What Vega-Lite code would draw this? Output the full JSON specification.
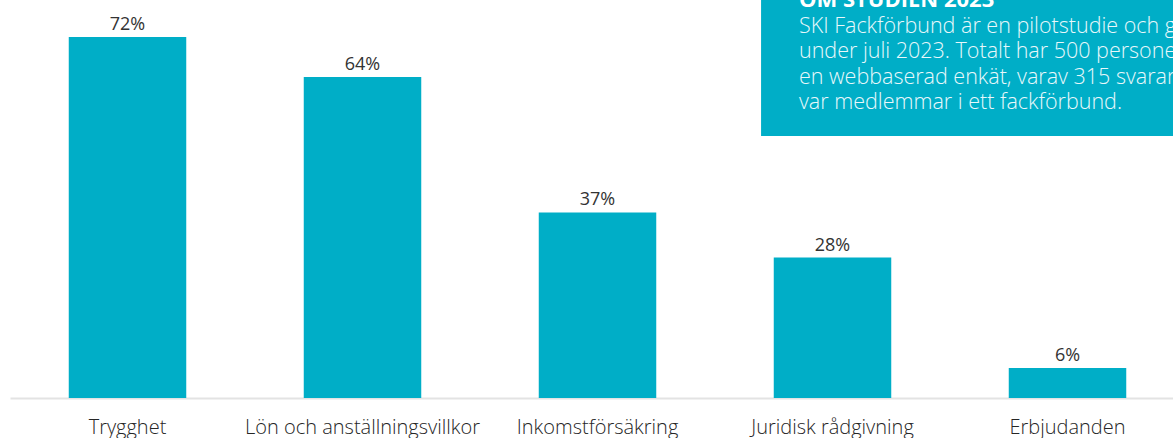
{
  "$schema": "https://vega.github.io/schema/vega-lite/v6.json",
  "autosize": {"type": "none"},
  "width": 1163,
  "height": 398,
  "padding": {"left": 10, "top": 0, "right": 0, "bottom": 40},
  "background": "white",
  "config": {"view": {"stroke": null}, "font": "Open Sans"},
  "datasets": {
    "bars": [
      {"kategori": "Trygghet", "andel": 0.72},
      {"kategori": "Lön och anställningsvillkor", "andel": 0.64},
      {"kategori": "Inkomstförsäkring", "andel": 0.37},
      {"kategori": "Juridisk rådgivning", "andel": 0.28},
      {"kategori": "Erbjudanden", "andel": 0.06}
    ],
    "note": [
      {
        "rubrik": "OM STUDIEN 2023",
        "rader": [
          "SKI Fackförbund är en pilotstudie och genomfördes",
          "under juli 2023.  Totalt har 500 personer svarat på",
          "en webbaserad enkät, varav 315 svarande",
          "var medlemmar i ett fackförbund."
        ]
      }
    ]
  },
  "layer": [
    {
      "data": {"name": "bars"},
      "layer": [
        {
          "mark": {"type": "bar", "color": "#00AEC7"},
          "encoding": {
            "x": {
              "field": "kategori", "type": "nominal", "sort": null,
              "scale": {"range": [0, 1175], "paddingInner": 0.5, "paddingOuter": 0.25},
              "axis": {
                "title": null, "ticks": false, "tickSize": 0, "labelPadding": 35,
                "labelBaseline": "alphabetic", "labelFontSize": 20, "labelColor": "#262626",
                "labelFont": "Open Sans", "labelFontWeight": 300, "labelLimit": 0, "labelAngle": 0,
                "domainColor": "#e3e3e3", "domainWidth": 2, "grid": false
              }
            },
            "y": {
              "field": "andel", "type": "quantitative",
              "scale": {"domain": [0, 0.7936], "nice": false, "zero": true},
              "axis": null
            }
          }
        },
        {
          "mark": {"type": "text", "baseline": "alphabetic", "dy": -7, "fontSize": 18, "color": "#333333", "font": "Open Sans"},
          "encoding": {
            "x": {"field": "kategori", "type": "nominal", "sort": null},
            "y": {"field": "andel", "type": "quantitative"},
            "text": {"field": "andel", "type": "quantitative", "format": ".0%"}
          }
        }
      ]
    },
    {
      "data": {"name": "note"},
      "layer": [
        {
          "mark": {"type": "rect", "color": "#00AEC7"},
          "encoding": {
            "x": {"datum": 0.6458, "type": "quantitative", "scale": {"domain": [0, 1], "nice": false, "zero": false}, "axis": null},
            "x2": {"datum": 1.1},
            "y": {"datum": 0.5224, "type": "quantitative"},
            "y2": {"datum": 0.85}
          }
        },
        {
          "mark": {"type": "text", "align": "left", "baseline": "alphabetic", "fontSize": 22, "fontWeight": "bold", "color": "#ffffff", "font": "Open Sans"},
          "encoding": {
            "x": {"datum": 0.6784, "type": "quantitative"},
            "y": {"datum": 0.78, "type": "quantitative"},
            "text": {"field": "rubrik", "type": "nominal"}
          }
        },
        {
          "mark": {"type": "text", "align": "left", "baseline": "alphabetic", "fontSize": 21.5, "fontWeight": 300, "lineHeight": 25.5, "color": "#e8f8fb", "font": "Open Sans"},
          "encoding": {
            "x": {"datum": 0.6784, "type": "quantitative"},
            "y": {"datum": 0.728, "type": "quantitative"},
            "text": {"field": "rader", "type": "nominal"}
          }
        }
      ]
    }
  ],
  "resolve": {"scale": {"x": "independent"}}
}
